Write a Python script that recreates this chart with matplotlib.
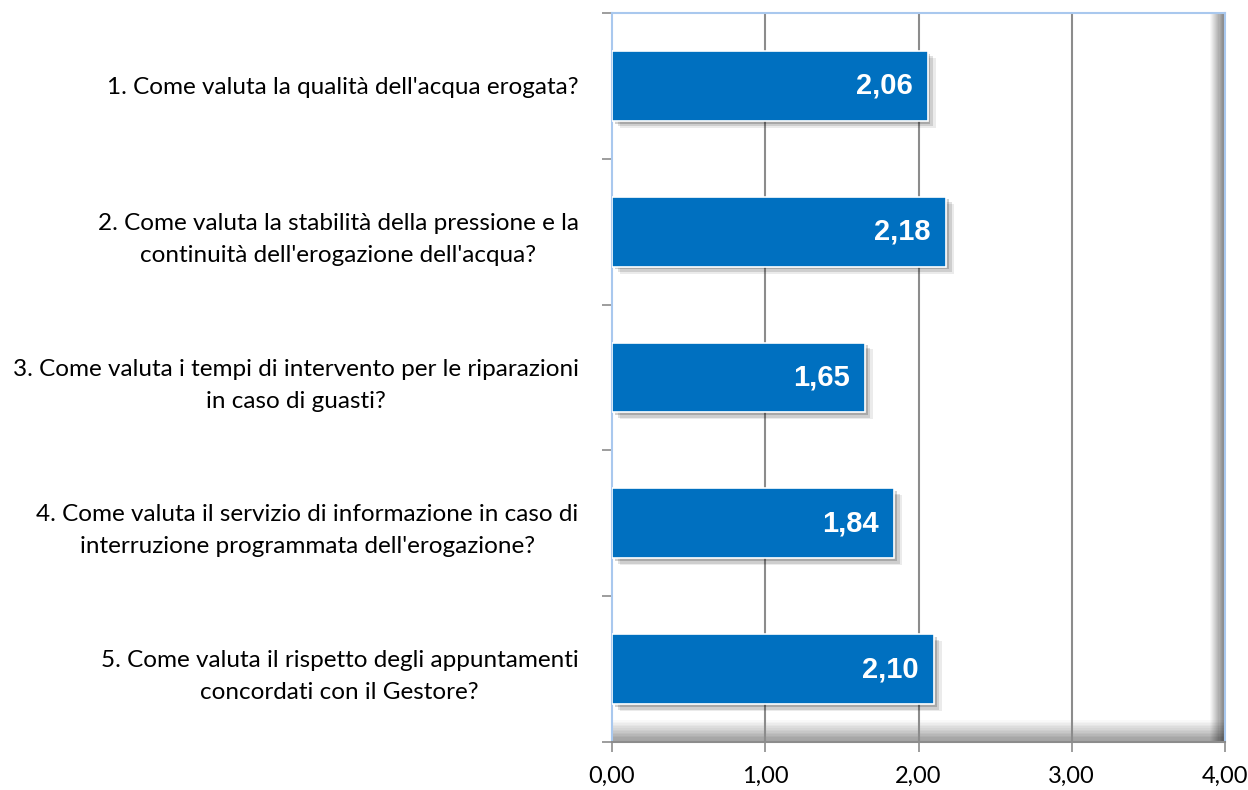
import matplotlib.pyplot as plt
import matplotlib.patheffects as pe
from matplotlib.patches import Rectangle
import numpy as np

# Questions and mean scores
questions = [
    "1. Come valuta la qualità dell'acqua erogata?",
    "2. Come valuta la stabilità della pressione e la\ncontinuità dell'erogazione dell'acqua?",
    "3. Come valuta i tempi di intervento per le riparazioni\nin caso di guasti?",
    "4. Come valuta il servizio di informazione in caso di\ninterruzione programmata dell'erogazione?",
    "5. Come valuta il rispetto degli appuntamenti\nconcordati con il Gestore?",
]
scores = [2.06, 2.18, 1.65, 1.84, 2.10]
x_ticks = [0, 1, 2, 3, 4]

bar_color = "#0070C0"
grid_color = "#8C8C8C"
border_color = "#A9C8EE"

fig = plt.figure(figsize=(12.48, 7.9), dpi=100)
ax = fig.add_axes([612 / 1248, 1 - 742 / 790, 613 / 1248, 729 / 790])

ax.set_xlim(0, 4)
ax.set_ylim(len(questions) - 0.5, -0.5)

# soft shadow along the right and bottom edges of the plot area
n = 14
for i in range(n):
    a = 0.028 * (i + 1) ** 1.1
    ax.add_patch(Rectangle((1 - 0.025 + i * 0.025 / n, 0), 0.025 / n, 1,
                           transform=ax.transAxes, color="black", alpha=min(a, 0.45),
                           lw=0, zorder=0.5))
    ax.add_patch(Rectangle((0, 0.03 - (i + 1) * 0.03 / n), 1, 0.03 / n,
                           transform=ax.transAxes, color="black", alpha=min(a * 0.8, 0.35),
                           lw=0, zorder=0.5))

for v in x_ticks[1:]:
    ax.axvline(v, color=grid_color, lw=1.5, zorder=1)

y = np.arange(len(questions))
bars = ax.barh(y, scores, height=0.48, color=bar_color, edgecolor="white",
               lw=1.2, zorder=3)
for b in bars:
    b.set_path_effects([
        pe.SimplePatchShadow(offset=(6, -5), shadow_rgbFace="black", alpha=0.08),
        pe.SimplePatchShadow(offset=(4, -4), shadow_rgbFace="black", alpha=0.12),
        pe.SimplePatchShadow(offset=(2, -2), shadow_rgbFace="black", alpha=0.18),
        pe.Normal(),
    ])

for yi, s in zip(y, scores):
    ax.text(s - 0.1, yi, f"{s:.2f}".replace(".", ","), ha="right", va="center",
            color="white", fontsize=21, fontweight="bold",
            family="Liberation Sans", zorder=4)

ax.set_xticks(x_ticks)
ax.set_xticklabels([f"{v:.2f}".replace(".", ",") for v in x_ticks],
                   fontsize=17, family="Lato")
ax.set_yticks(y)
ax.set_yticklabels(questions, fontsize=17.5, family="Lato", ha="right",
                   multialignment="center", linespacing=1.65)
ax.tick_params(axis="y", length=0, pad=24)
ax.set_yticks(np.arange(-0.5, len(questions), 1), minor=True)
ax.tick_params(axis="y", which="minor", length=7, color=grid_color, width=1.2)
ax.tick_params(axis="x", length=7, color=grid_color, width=1.2, pad=10)

for side in ["top", "right", "left"]:
    ax.spines[side].set_color(border_color)
    ax.spines[side].set_linewidth(1.5)
ax.spines["bottom"].set_color(grid_color)
ax.spines["bottom"].set_linewidth(1.5)

fig.savefig("out.png", dpi=100)
